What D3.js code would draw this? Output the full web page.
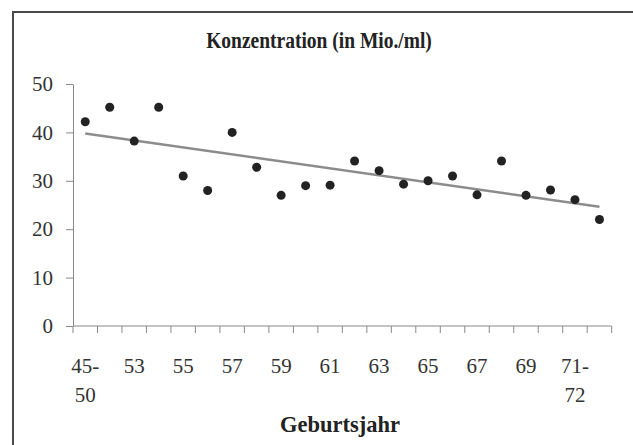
<!DOCTYPE html>
<html>
<head>
<meta charset="utf-8">
<script src="https://cdn.jsdelivr.net/npm/d3@7"></script>
<style>
  body { margin: 0; background: #fff; }
  text { font-family: "Liberation Serif", "Times New Roman", serif; }
</style>
</head>
<body>
<div class="chart"></div>
<script>
// categories (birth years) and sperm concentration values
var years = ["45-50", "51-52", "53", "54", "55", "56", "57", "58", "59", "60", "61",
  "62", "63", "64", "65", "66", "67", "68", "69", "70", "71-72", "73"];
var concentration = [42.2, 45.2, 38.2, 45.2, 31, 28, 40, 32.8, 27, 29, 29.1,
  34.1, 32.1, 29.3, 30, 31, 27.1, 34.1, 27, 28.1, 26.1, 22];
var yTicks = [0, 10, 20, 30, 40, 50];

const width = 633,
  height = 445;

var svg = d3.select(".chart").append("svg")
  .attr("width", width)
  .attr("height", height);

// frame (only top and left edge visible)
svg.append("path")
  .attr("d", "M13," + height + "V12H" + width)
  .attr("fill", "none")
  .attr("stroke", "#4a4a4a")
  .attr("stroke-width", 2);

const x = d3.scaleBand().domain(years).range([73, 611.7]);
const y = d3.scaleLinear().domain([0, 50]).range([326, 84]);

//title, slightly stretched vertically like the scanned original
svg.append("text")
  .attr("transform", "translate(319,48) scale(1,1.15)")
  .attr("text-anchor", "middle")
  .attr("font-weight", "bold")
  .attr("font-size", 19.5)
  .attr("fill", "#222")
  .text("Konzentration (in Mio./ml)");

// y axis
var yAxis = svg.append("g")
  .attr("transform", "translate(73,0)")
  .call(d3.axisLeft(y).tickValues(yTicks).tickSize(7).tickSizeOuter(0).tickPadding(13));
yAxis.select(".domain").attr("stroke", "#888");
yAxis.selectAll(".tick line").attr("stroke", "#888");
yAxis.selectAll(".tick text")
  .attr("font-size", 21)
  .attr("fill", "#333")
  .attr("font-family", "Liberation Serif");

// x axis line with ticks at category boundaries
svg.append("line")
  .attr("x1", x.range()[0]).attr("x2", x.range()[1])
  .attr("y1", y(0)).attr("y2", y(0))
  .attr("stroke", "#888");
var bounds = years.map((d) => x(d)).concat([x.range()[1]]);
svg.selectAll(".xtick")
  .data(bounds)
  .join("line")
  .attr("class", "xtick")
  .attr("x1", (d) => d).attr("x2", (d) => d)
  .attr("y1", y(0)).attr("y2", y(0) + 7)
  .attr("stroke", "#888");

// every second label, split at the hyphen
var labels = svg.selectAll(".xlabel")
  .data(years.filter((d, i) => i % 2 === 0))
  .join("text")
  .attr("class", "xlabel")
  .attr("text-anchor", "middle")
  .attr("font-size", 21)
  .attr("fill", "#333");
labels.each(function (d) {
  var parts = d.indexOf("-") > 0 ? [d.split("-")[0] + "-", d.split("-")[1]] : [d];
  var cx = x(d) + x.bandwidth() / 2;
  d3.select(this).selectAll("tspan")
    .data(parts)
    .join("tspan")
    .attr("x", cx)
    .attr("y", (p, k) => 373 + k * 29)
    .text((p) => p);
});

// axis title
svg.append("text")
  .attr("x", 340)
  .attr("y", 432)
  .attr("text-anchor", "middle")
  .attr("font-weight", "bold")
  .attr("font-size", 22.5)
  .attr("fill", "#222")
  .text("Geburtsjahr");

// linear trend line (least squares over category index)
var n = concentration.length;
var mx = d3.mean(concentration, (d, i) => i);
var my = d3.mean(concentration);
var sxy = d3.sum(concentration, (d, i) => (i - mx) * (d - my));
var sxx = d3.sum(concentration, (d, i) => (i - mx) * (i - mx));
var slope = sxy / sxx,
  icpt = my - slope * mx;
var cxs = (i) => x(years[i]) + x.bandwidth() / 2;
svg.append("line")
  .attr("x1", cxs(0)).attr("y1", y(icpt))
  .attr("x2", cxs(n - 1)).attr("y2", y(icpt + slope * (n - 1)))
  .attr("stroke", "#8c8c8c")
  .attr("stroke-width", 2.5);

// points
svg.selectAll(".point")
  .data(concentration)
  .join("circle")
  .attr("class", "point")
  .attr("cx", (d, i) => cxs(i))
  .attr("cy", (d) => y(d))
  .attr("r", 4.5)
  .attr("fill", "#222");
</script>
</body>
</html>
